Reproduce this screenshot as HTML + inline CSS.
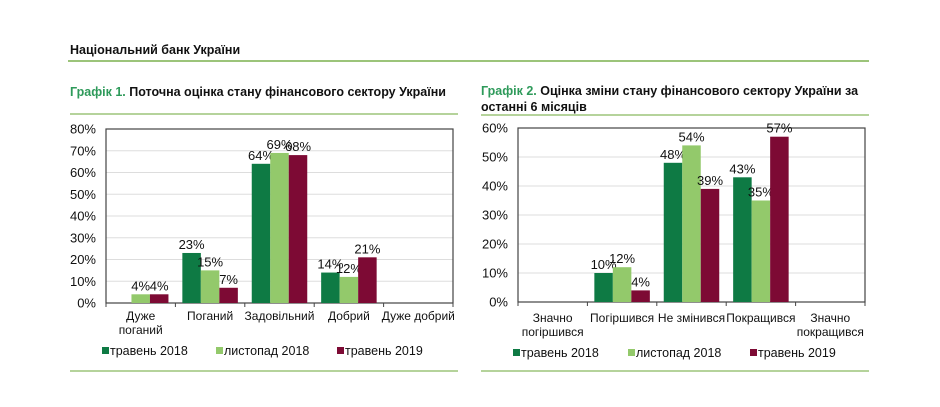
<!DOCTYPE html>
<html><head><meta charset="utf-8">
<style>
body{margin:0;background:#fff;}
svg{display:block;font-family:"Liberation Sans",Arial,sans-serif;}
</style></head>
<body>
<svg id="s" width="940" height="407" xmlns="http://www.w3.org/2000/svg">
<text x="70" y="54" font-size="12.5" font-weight="bold" fill="#111">Національний банк України</text>
<rect x="68" y="60" width="801" height="2" fill="#9cc47a"/>
<text x="70" y="96" font-size="12.5" font-weight="bold"><tspan fill="#2e9a5a">Графік 1.</tspan><tspan fill="#111"> Поточна оцінка стану фінансового сектору України</tspan></text>
<rect x="70" y="113" width="388" height="2" fill="#b5d39b"/>
<text x="481" y="95" font-size="12.5" font-weight="bold"><tspan fill="#2e9a5a">Графік 2.</tspan><tspan fill="#111"> Оцінка зміни стану фінансового сектору України за</tspan><tspan x="481" dy="16" fill="#111">останні 6 місяців</tspan></text>
<rect x="481" y="114" width="388" height="2" fill="#b5d39b"/>
<rect x="70" y="370" width="388" height="2" fill="#b5d39b"/>
<rect x="481" y="370" width="388" height="2" fill="#b5d39b"/>
<g id="c1"></g>
<g id="c2"></g>
</svg>
<script>
const NS="http://www.w3.org/2000/svg";
const colors=["#0e7a44","#93c96b","#7d0a34"];
const seriesNames=["травень 2018","листопад 2018","травень 2019"];
const cats1=[["Дуже","поганий"],["Поганий"],["Задовільний"],["Добрий"],["Дуже добрий"]];
const c1May18=[null,23,64,14,null];
const c1Nov18=[4,15,69,12,null];
const c1May19=[4,7,68,21,null];
const ticks1=[0,10,20,30,40,50,60,70,80];
const cats2=[["Значно","погіршився"],["Погіршився"],["Не змінився"],["Покращився"],["Значно","покращився"]];
const c2May18=[null,10,48,43,null];
const c2Nov18=[null,12,54,35,null];
const c2May19=[null,4,39,57,null];
const ticks2=[0,10,20,30,40,50,60];

function mk(p,tag,attrs,txt){const e=document.createElementNS(NS,tag);for(const k in attrs)e.setAttribute(k,attrs[k]);if(txt!=null)e.textContent=txt;p.appendChild(e);return e;}

function draw(g,cfg){
  const {L,R,T,B,max,ticks,cats,series,legY,legX,catY}=cfg;
  const y=v=>B-(v/max)*(B-T);
  const cw=(R-L)/cats.length, bw=18.5;
  ticks.forEach(t=>{
    if(t>0&&t<max){const l=mk(g,"line",{x1:L,x2:R,y1:y(t),y2:y(t),stroke:"#ddd","stroke-width":1});
    
    }
    const tx=mk(g,"text",{x:L-10,y:y(t)+4.5,"font-size":13,"text-anchor":"end",fill:"#111"},t+"%");
    
    
  });
  const f=mk(g,"rect",{x:L,y:T,width:R-L,height:B-T,fill:"none",stroke:"#444","stroke-width":1.2});
  
  
  for(let i=0;i<=cats.length;i++){const tk=mk(g,"line",{x1:L+i*cw,x2:L+i*cw,y1:B,y2:B+4,stroke:"#444"});
    
    }
  cats.forEach((c,i)=>{
    const cx=L+(i+0.5)*cw;
    series.forEach((s,j)=>{
      const v=s[i]; if(v==null) return;
      const x=cx+(j-1.5)*bw;
      const r=mk(g,"rect",{x:x,y:y(v),width:bw,height:B-y(v),fill:colors[j]});
      
      
      const t=mk(g,"text",{x:x+bw/2,y:y(v)-4,"font-size":13,"text-anchor":"middle",fill:"#111"},v+"%");
      
      
    });
    c.forEach((ln,k)=>{
      const t=mk(g,"text",{x:cx,y:catY+k*14,"font-size":12,"text-anchor":"middle",fill:"#111"},ln);
      
      
    });
  });
  seriesNames.forEach((n,j)=>{
    const lg=mk(g,"g",{});
    
    
    mk(lg,"rect",{x:legX[j],y:legY-8,width:7,height:7,fill:colors[j]});
    mk(lg,"text",{x:legX[j]+8,y:legY,"font-size":12.5,fill:"#111"},n);
  });
}
draw(document.getElementById("c1"),{L:106,R:453,T:129,B:303,max:80,ticks:ticks1,cats:cats1,
  series:[c1May18,c1Nov18,c1May19],legY:355,legX:[102,216,337],catY:320});
draw(document.getElementById("c2"),{L:518,R:865,T:128,B:302,max:60,ticks:ticks2,cats:cats2,
  series:[c2May18,c2Nov18,c2May19],legY:357,legX:[513,628,750],catY:322});
</script>
</body></html>
